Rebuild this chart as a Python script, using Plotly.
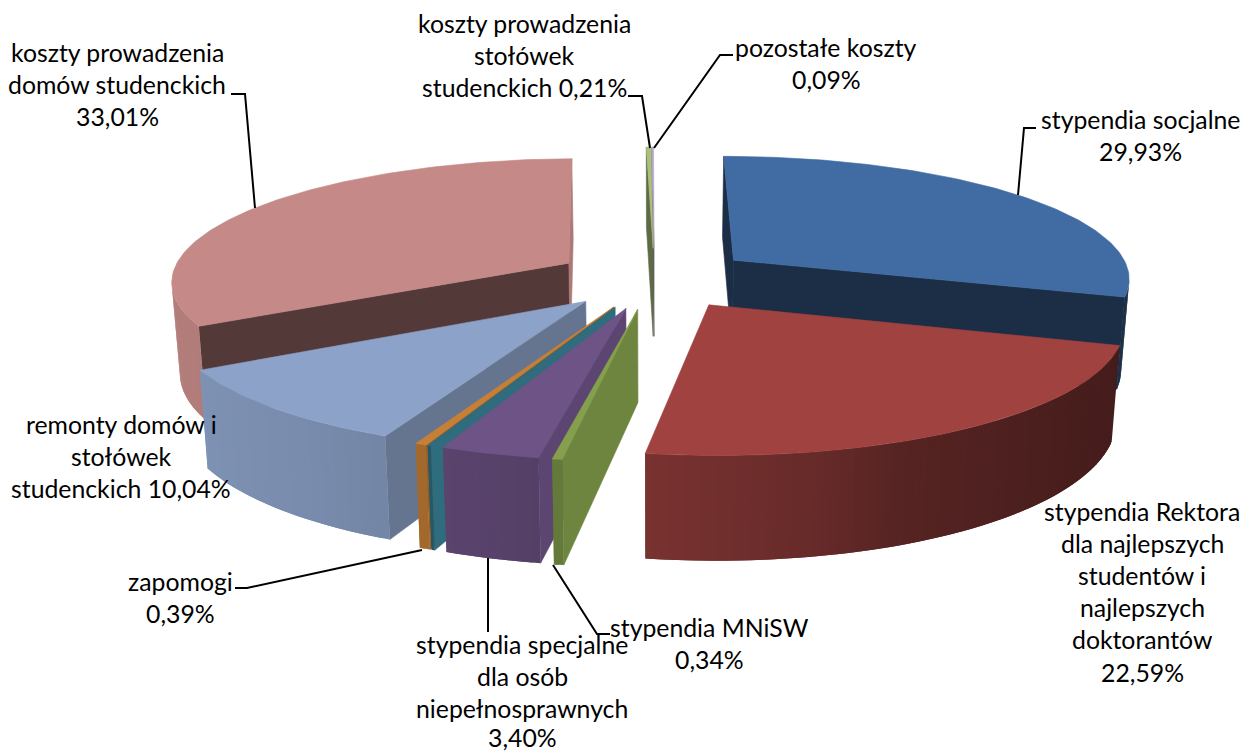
import numpy as np
import plotly.graph_objects as go

# --- data -------------------------------------------------------------
categories = ["stypendia socjalne",
              "stypendia Rektora dla najlepszych studentów i najlepszych doktorantów",
              "stypendia MNiSW", "stypendia specjalne dla osób niepełnosprawnych",
              "(bez etykiety)", "zapomogi", "remonty domów i stołówek studenckich",
              "koszty prowadzenia domów studenckich",
              "koszty prowadzenia stołówek studenckich", "pozostałe koszty"]
values = [29.93, 22.59, 0.34, 3.40, 0.12, 0.39, 10.04, 33.01, 0.21, 0.09]

# --- style ------------------------------------------------------------
top_colors = ["#406CA3", "#9F4240", "#84A04C", "#6E5386", "#2F6C7E", "#C67F36",
              "#8CA2C8", "#C58A87", "#A9C07A", "#B3A5C9"]
start_wall = [0.43, 0.50, 0.83, 0.84, 1.00, 0.75, 0.72, 0.42, 0.55, 0.55]
end_wall = [0.43, 0.50, 0.50, 0.50, 0.70, 0.70, 0.70, 0.88, 0.55, 0.55]
shade_angle = [0, 90, 107, 130, 155, 169, 189, 197, 215, 240, 270, 320, 360]
shade_level = [.42, .46, .43, .46, .53, .65, .76, .80, .86, .90, .92, .92, .92]

ROT = -0.1
CX, CY, R, PULL, K, D, H, E = 654.5, 278, 398.5, 100, 0.307, 2950, 90.5, 0.017


def project(X, Y, z):
    s = 1 / (1 - Y / D)
    e = 1 - z * E
    return CX + X * s * e, CY + Y * K * s * e + z * H * s


def hexrgb(c):
    return [int(c[i:i + 2], 16) for i in (1, 3, 5)]


def scaled(c, f):
    r, g, b = hexrgb(c)
    return f"rgb({r * f:.0f},{g * f:.0f},{b * f:.0f})"


def area(px, py):
    return 0.5 * sum(px[i] * py[(i + 1) % len(px)] - px[(i + 1) % len(px)] * py[i]
                     for i in range(len(px)))


fig = go.Figure()


def poly(px, py, color, lw=0.6):
    fig.add_trace(go.Scatter(x=list(px) + [px[0]], y=list(py) + [py[0]], mode="lines",
                             fill="toself", fillcolor=color,
                             line=dict(color=color, width=lw),
                             hoverinfo="skip", showlegend=False))


total = sum(values)
edges = np.cumsum([0] + values) / total * 360 + ROT
slices = []
for i in range(len(values)):
    a0, a1 = edges[i], edges[i + 1]
    mid = np.radians((a0 + a1) / 2)
    ax, ay = PULL * np.sin(mid), -PULL * np.cos(mid)
    slices.append((ay, i, a0, a1, ax, ay))

for ay_key, i, a0, a1, ax, ay in sorted(slices):
    n = max(2, int((a1 - a0) / 1.0) + 1)
    ang = np.linspace(a0, a1, n + 1)
    rad = np.radians(ang)
    ox = ax + R * np.sin(rad)
    oy = ay - R * np.cos(rad)
    base = top_colors[i]

    # radial walls (culled if they face away)
    for j, sh, sign in ((0, start_wall[i], 1), (-1, end_wall[i], -1)):
        qx, qy = zip(*[project(ax, ay, 0), project(ox[j], oy[j], 0),
                       project(ox[j], oy[j], 1), project(ax, ay, 1)])
        if area(qx, qy) * sign < 0:
            poly(qx, qy, scaled(base, sh))

    # outer wall strips, each one overlapping the next so no seams show
    for j in range(n):
        j2 = min(j + 2, n)
        qx, qy = zip(*[project(ox[j], oy[j], 0), project(ox[j2], oy[j2], 0),
                       project(ox[j2], oy[j2], 1), project(ox[j], oy[j], 1)])
        if area(qx, qy) < 0:
            f = np.interp((ang[j] + ang[j + 1]) / 2, shade_angle, shade_level)
            poly(qx, qy, scaled(base, f), lw=0)

    # top face
    tx = [project(ax, ay, 0)[0]] + [project(a, b, 0)[0] for a, b in zip(ox, oy)]
    ty = [project(ax, ay, 0)[1]] + [project(a, b, 0)[1] for a, b in zip(ox, oy)]
    poly(tx, ty, base)

# --- labels -----------------------------------------------------------
labels = [
    (117, ["koszty prowadzenia", "domów studenckich", "33,01%"], 52),
    (524, ["koszty prowadzenia", "stołówek", "studenckich 0,21%"], 23),
    (826, ["pozostałe koszty", "0,09%"], 47),
    (1140, ["stypendia socjalne", "29,93%"], 119),
    (1142, ["stypendia Rektora", "dla najlepszych", "studentów i", "najlepszych",
            "doktorantów", "22,59%"], 511),
    (121, ["remonty domów i", "stołówek", "studenckich 10,04%"], 424),
    (180, ["zapomogi", "0,39%"], 581),
    (522, ["stypendia specjalne", "dla osób", "niepełnosprawnych", "3,40%"], 644),
    (709, ["stypendia MNiSW", "0,34%"], 627),
]
LINE_STEP = 32.2
for x, lines, y0 in labels:
    for k, t in enumerate(lines):
        y = min(y0 + k * LINE_STEP, 737)
        fig.add_annotation(x=x, y=y, text=t, showarrow=False,
                           xanchor="center", yanchor="middle", xref="x", yref="y",
                           font=dict(family="Lato", size=24.8, color="#000000"))

leaders = [
    [(255, 208), (245, 94), (231, 94)],
    [(650, 148), (642, 96), (628, 96)],
    [(654, 148), (720, 55), (733, 55)],
    [(1018, 195), (1024, 128), (1036, 128)],
    [(422, 550), (247, 588), (235, 588)],
    [(488, 558), (488, 632)],
    [(553, 565), (597, 634), (610, 634)],
]
for pts in leaders:
    path = "M " + " L ".join(f"{a} {b}" for a, b in pts)
    fig.add_shape(type="path", path=path, line=dict(color="#000000", width=2),
                  xref="x", yref="y", layer="above")

fig.update_layout(width=1252, height=753, margin=dict(l=0, r=0, t=0, b=0),
                  paper_bgcolor="#FFFFFF", plot_bgcolor="#FFFFFF", showlegend=False,
                  xaxis=dict(range=[0, 1252], visible=False, fixedrange=True),
                  yaxis=dict(range=[753, 0], visible=False, fixedrange=True))
fig.write_html("out.html", config=dict(displayModeBar=False),
               post_script="document.body.style.margin='0';document.body.style.overflow='hidden';")
